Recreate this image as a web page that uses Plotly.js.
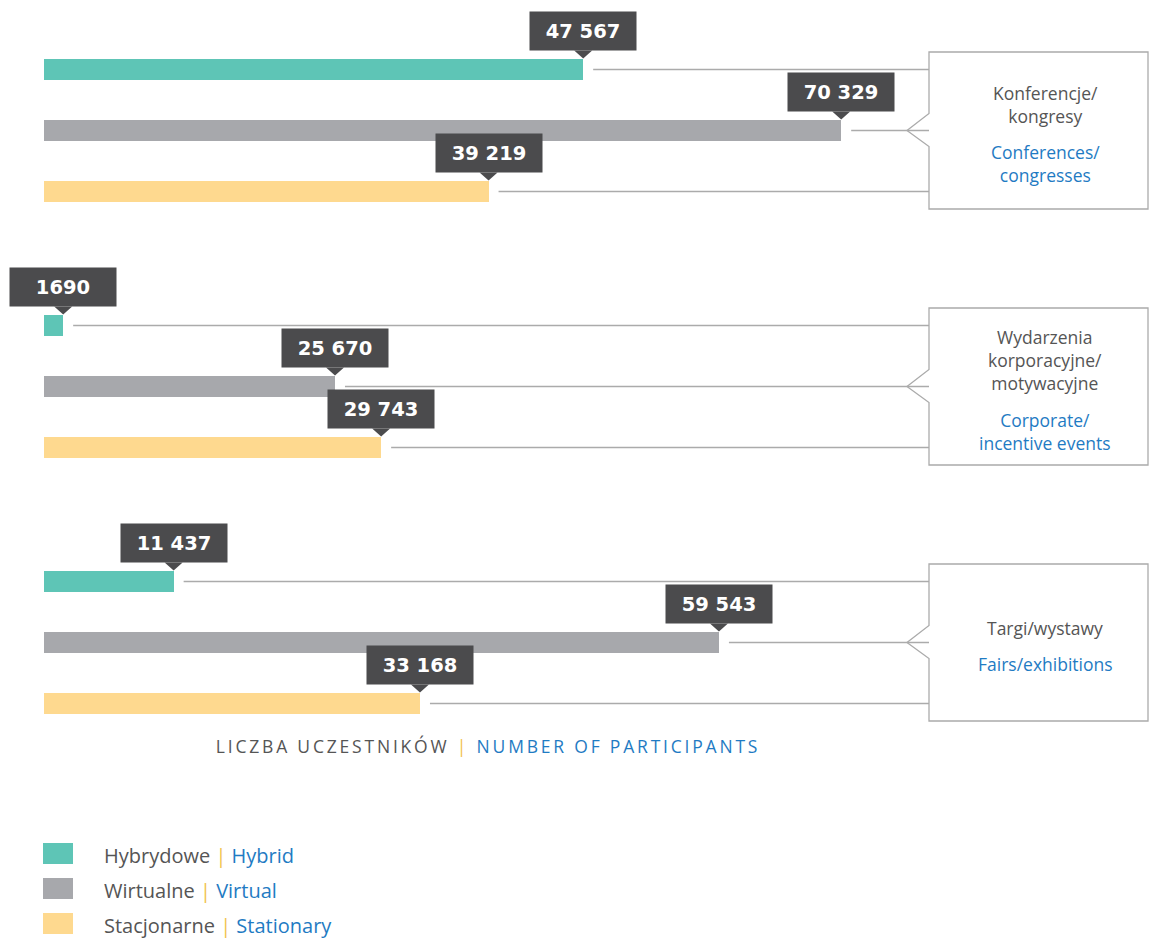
<!DOCTYPE html>
<html>
<head>
<meta charset="utf-8">
<script src="https://cdn.plot.ly/plotly-3.0.1.min.js"></script>
<style>html,body{margin:0;padding:0;background:#fff;}#chart{width:1149px;height:939px;}</style>
</head>
<body>
<div id="chart"></div>
<script>
// ---- data ----
const categoriesPL = [['Konferencje/', 'kongresy'], ['Wydarzenia', 'korporacyjne/', 'motywacyjne'], ['Targi/wystawy']];
const categoriesEN = [['Conferences/', 'congresses'], ['Corporate/', 'incentive events'], ['Fairs/exhibitions']];
const seriesPL = ['Hybrydowe', 'Wirtualne', 'Stacjonarne'];
const seriesEN = ['Hybrid', 'Virtual', 'Stationary'];
const hybrid = [47567, 1690, 11437];
const virtual = [70329, 25670, 59543];
const stationary = [39219, 29743, 33168];
const axisTitlePL = 'LICZBA UCZESTNIKÓW';
const axisTitleEN = 'NUMBER OF PARTICIPANTS';

// ---- styling / layout ----
const W = 1149, H = 939;
const colors = ['#5ec5b6', '#a7a8ac', '#fed98f'];
const BLUE = '#1f7bc3', GREYTXT = '#555555', SEP = '#f1c24b', LINE = '#ababab', DARK = '#4b4b4d';
const FONT = 'Open Sans, sans-serif';
const NUMFONT = 'DejaVu Sans, sans-serif';
const L = 44;                 // left margin (px)
const PX_PER_UNIT = 0.011335; // horizontal scale
const XMAX = (W - L) / PX_PER_UNIT;
const series = [hybrid, virtual, stationary];
const BAR_H = 21;
const yOf = (g, s) => 69.5 + 256 * g + 61 * s;   // bar centre, in plot pixels
const dataX = px => (px - L) / PX_PER_UNIT;
const paperX = px => (px - L) / (W - L);
const fmt = v => v >= 10000 ? String(v).replace(/\B(?=(\d{3})+(?!\d))/g, ' ') : String(v);

const traces = series.map((vals, s) => ({
  type: 'bar', orientation: 'h',
  x: vals,
  y: vals.map((v, g) => yOf(g, s)),
  width: BAR_H,
  marker: {color: colors[s], line: {width: 0}},
  name: seriesPL[s] + ' | ' + seriesEN[s],
  hoverinfo: 'x',
  showlegend: false
}));

const shapes = [];
const annotations = [];
const BOX_L = 929, BOX_R = 1148, NOTCH_X = 907;

series.forEach((vals, s) => {
  vals.forEach((v, g) => {
    const yc = yOf(g, s);
    const top = yc - BAR_H / 2;
    shapes.push({type: 'line', xref: 'x', yref: 'y',
      x0: v + 10 / PX_PER_UNIT, x1: dataX(BOX_L), y0: yc, y1: yc,
      line: {color: LINE, width: 1.3}, layer: 'below'});
    annotations.push({xref: 'x', yref: 'y', x: v, y: top - 8,
      xanchor: 'center', yanchor: 'bottom', showarrow: false,
      text: '<b>' + fmt(v) + '</b>', width: 106, height: 38, borderpad: 0,
      bgcolor: DARK, font: {family: NUMFONT, size: 19.5, color: '#ffffff'}});
    shapes.push({type: 'path', xref: 'x', yref: 'y', xsizemode: 'pixel', xanchor: v,
      path: 'M -9,' + (top - 8.5) + ' L 9,' + (top - 8.5) + ' L 0,' + (top - 0.5) + ' Z',
      fillcolor: DARK, line: {width: 0}});
  });
});

const CAT_SIZE = 17.5;
categoriesPL.forEach((pl, g) => {
  const t = yOf(g, 0) - 17.5, b = yOf(g, 2) + 17.5, c = yOf(g, 1);
  shapes.push({type: 'path', xref: 'paper', yref: 'y',
    path: 'M ' + paperX(BOX_L) + ',' + t + ' L ' + paperX(BOX_R) + ',' + t + ' L ' + paperX(BOX_R) + ',' + b +
      ' L ' + paperX(BOX_L) + ',' + b + ' L ' + paperX(BOX_L) + ',' + (c + 16) + ' L ' + paperX(NOTCH_X) + ',' + c +
      ' L ' + paperX(BOX_L) + ',' + (c - 17) + ' Z',
    line: {color: LINE, width: 1.3}, fillcolor: 'rgba(0,0,0,0)'});
  const en = categoriesEN[g];
  const LH = 1.3 * CAT_SIZE, GAP = 36.5;
  const total = (pl.length - 1) * LH + GAP + (en.length - 1) * LH;
  const first = c + 3.5 - total / 2;
  const enFirst = first + (pl.length - 1) * LH + GAP;
  annotations.push({xref: 'paper', yref: 'y', x: paperX(1045), y: first + (pl.length - 1) * LH / 2,
    xanchor: 'center', yanchor: 'middle', showarrow: false, text: pl.join('<br>'),
    font: {family: FONT, size: CAT_SIZE, color: GREYTXT}});
  annotations.push({xref: 'paper', yref: 'y', x: paperX(1045), y: enFirst + (en.length - 1) * LH / 2,
    xanchor: 'center', yanchor: 'middle', showarrow: false, text: en.join('<br>'),
    font: {family: FONT, size: CAT_SIZE, color: BLUE}});
});

annotations.push({xref: 'paper', yref: 'y', x: paperX(488), y: 746, xanchor: 'center', yanchor: 'middle',
  showarrow: false,
  text: axisTitlePL + ' <span style="color:' + SEP + '">|</span> <span style="color:' + BLUE + '">' + axisTitleEN + '</span>',
  font: {family: FONT, size: 17.5, color: GREYTXT}});

seriesPL.forEach((pl, s) => {
  const yc = 853.5 + 35 * s;
  shapes.push({type: 'rect', xref: 'paper', yref: 'y', x0: paperX(43), x1: paperX(73), y0: yc - 10.5, y1: yc + 10.5,
    fillcolor: colors[s], line: {width: 0}});
  annotations.push({xref: 'paper', yref: 'y', x: paperX(102), y: yc + 2, xanchor: 'left', yanchor: 'middle',
    showarrow: false,
    text: pl + ' <span style="color:' + SEP + '">|</span> <span style="color:' + BLUE + '">' + seriesEN[s] + '</span>',
    font: {family: FONT, size: 20, color: GREYTXT}});
});

const layout = {
  width: W, height: H,
  margin: {l: L, r: 0, t: 0, b: 0, pad: 0},
  paper_bgcolor: '#ffffff', plot_bgcolor: '#ffffff',
  showlegend: false,
  bargap: 0,
  xaxis: {range: [0, XMAX], showgrid: false, zeroline: false, showticklabels: false, showline: false, fixedrange: true},
  yaxis: {range: [H, 0], showgrid: false, zeroline: false, showticklabels: false, showline: false, fixedrange: true},
  shapes: shapes,
  annotations: annotations
};

Plotly.newPlot('chart', traces, layout, {displayModeBar: false, staticPlot: true}).then(gd => {
  // tracked-out caps for the axis caption, as in the original
  gd.querySelectorAll('.annotation-text').forEach(t => {
    if (t.textContent.indexOf(axisTitlePL) === 0) {
      t.setAttribute('letter-spacing', '2.8px');
    }
  });
});
</script>
</body>
</html>
